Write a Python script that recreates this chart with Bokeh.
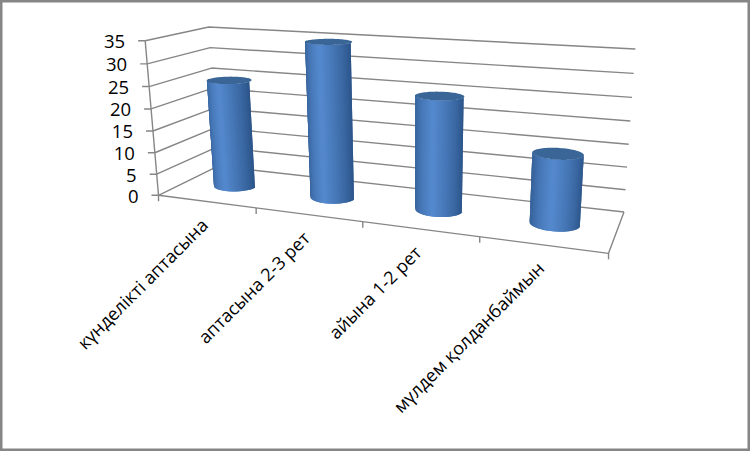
import numpy as np
from bokeh.plotting import figure
from bokeh.models import Range1d
from bokeh.core.properties import value
from bokeh.embed import file_html
from bokeh.resources import INLINE

categories = ["күнделікті аптасына", "аптасына 2-3 рет", "айына 1-2 рет", "мүлдем қолданбаймын"]
values = [25, 35, 25, 15]
value_ticks = [0, 5, 10, 15, 20, 25, 30, 35]

W, H = 750, 451
GREY = "#868686"
FONT = "Open Sans"

# perspective camera calibrated on box corners: (category, value, depth) -> screen
calib = [
    ((0, 0, 0), (157, 195)), ((0, 35, 0), (146, 40.7)), ((0, 0, 1), (219, 166)),
    ((0, 35, 1), (207, 26)), ((4, 0, 1), (623, 211.7)), ((4, 35, 1), (635, 49)),
    ((4, 0, 0), (608, 253)), ((1, 0, 0), (255, 207)), ((2, 0, 0), (362, 221)),
    ((3, 0, 0), (480, 236)), ((4, 20, 1), (630, 120)),
]
A, b = [], []
for (u, v, w), (x, y) in calib:
    A.append([u, v, w, 1, 0, 0, 0, 0, -x*u, -x*v, -x*w]); b.append(x)
    A.append([0, 0, 0, 0, u, v, w, 1, -y*u, -y*v, -y*w]); b.append(y)
sol = np.linalg.lstsq(np.array(A, float), np.array(b, float), rcond=None)[0]
P = np.append(sol, 1.0).reshape(3, 4)

def proj(u, v, w):
    u, v, w = np.broadcast_arrays(np.asarray(u, float), np.asarray(v, float), np.asarray(w, float))
    q = P @ np.stack([u, v, w, np.ones_like(u)])
    return q[0] / q[2], q[1] / q[2]

p = figure(width=W, height=H, x_range=Range1d(0, W), y_range=Range1d(H, 0),
           output_backend="svg", toolbar_location=None, min_border=0,
           background_fill_color="white", border_fill_color="white")
p.axis.visible = False
p.grid.visible = False
p.outline_line_color = GREY
p.outline_line_width = 4
p.styles = {"position": "absolute", "left": "0px", "top": "0px"}

# walls and floor
vmax = value_ticks[-1]
n = len(categories)
for t in value_ticks:
    xs, ys = proj([0, 0, n], [t, t, t], [0, 1, 1])
    p.line(xs, ys, line_color=GREY, line_width=1.4)
    x0, y0 = proj(0, t, 0)
    p.line([x0 - 7, x0], [y0, y0], line_color=GREY, line_width=1.4)
xs, ys = proj([0, 0], [0, vmax], [0, 0])
p.line(xs, ys, line_color=GREY, line_width=1.4)
xs, ys = proj([0, n, n], [0, 0, 0], [0, 0, 1])
p.line(xs, ys, line_color=GREY, line_width=1.4)
for i in range(n + 1):
    x0, y0 = proj(i, 0, 0)
    p.line([x0, x0], [y0, y0 + 6], line_color=GREY, line_width=1.4)

# value labels
tx, ty = proj(np.zeros(len(value_ticks)), value_ticks, np.zeros(len(value_ticks)))
p.text(tx - 20, ty + 1, text=[str(t) for t in value_ticks], text_font=value(FONT),
       text_font_size="18.5px", text_color="black", text_align="right", text_baseline="middle")

# cylinders
RU, RW = 0.205, 0.18
DARK = np.array([0x2c, 0x55, 0x8a]); LIGHT = np.array([0x55, 0x8a, 0xcf])
N = 40
for i, val in enumerate(values):
    c = i + 0.5
    th = np.linspace(np.pi, 2 * np.pi, N + 1)   # front half of the ring
    bx, by = proj(c + RU * np.cos(th), 0, 0.5 + RW * np.sin(th))
    ax, ay = proj(c + RU * np.cos(th), val, 0.5 + RW * np.sin(th))
    xs_, ys_, cols = [], [], []
    for k in range(N):
        j = min(k + 2, N)
        xs_.append([bx[k], bx[j], ax[j], ax[k]])
        ys_.append([by[k], by[j], ay[j], ay[k]])
        m = 0.5 * (th[k] + th[k + 1])
        s = max(0.0, 1 - abs(np.cos(m))) ** 0.6
        col = DARK + (LIGHT - DARK) * s
        cols.append("#%02x%02x%02x" % tuple(int(z) for z in col))
    p.patches(xs_, ys_, fill_color=cols, line_color=None)
    full = np.linspace(0, 2 * np.pi, 80)
    ex, ey = proj(c + RU * np.cos(full), val, 0.5 + RW * np.sin(full))
    p.patch(ex, ey, fill_color="#3a6597", line_color=None)

# category labels
lx, ly = proj(np.arange(n) + 0.5, np.zeros(n), np.zeros(n))
p.text(lx - 2, ly + 20, text=categories, angle=np.pi / 4, text_font=value(FONT),
       text_font_size="18px", text_color="black", text_align="right", text_baseline="middle")

open("out.html", "w").write(file_html(p, INLINE))
